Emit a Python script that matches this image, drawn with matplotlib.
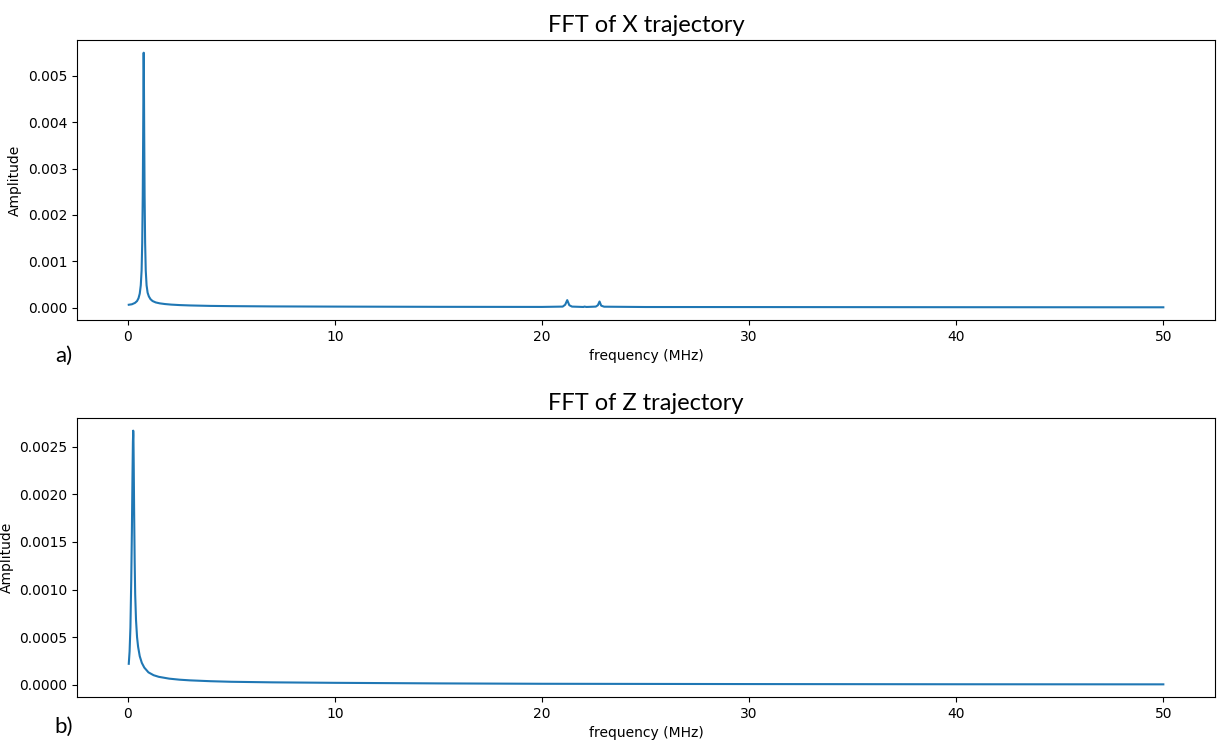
import numpy as np
import matplotlib.pyplot as plt

# values (frequency in MHz, amplitude)
freq_x = [0.05, 0.2, 0.35, 0.45, 0.52, 0.58, 0.63, 0.67, 0.7, 0.725, 0.745, 0.76,
          0.77, 0.78, 0.795, 0.815, 0.84, 0.87, 0.91, 0.96, 1.02, 1.1, 1.2, 1.35,
          1.55, 1.8, 2.1, 2.5, 3.0, 4.0, 5.0, 7.0, 10.0, 15.0, 20.0, 21.0, 21.12,
          21.22, 21.32, 21.45, 22.0, 22.05, 22.15, 22.6, 22.7, 22.78, 22.86, 23.0,
          25.0, 30.0, 40.0, 50.0]
amp_x = [0.00006, 0.00007, 0.0001, 0.00014, 0.0002, 0.0003, 0.00048, 0.0008,
         0.0014, 0.0024, 0.0037, 0.0049, 0.0055, 0.0051, 0.0038, 0.0024, 0.0014,
         0.0008, 0.00048, 0.00032, 0.00024, 0.00018, 0.00014, 0.00011, 0.00009,
         0.000075, 0.000063, 0.000053, 0.000045, 0.000035, 0.00003, 0.000024,
         0.00002, 0.000015, 0.000013, 0.00002, 0.00006, 0.00016, 0.00005, 0.00002,
         0.000012, 0.00002, 0.000012, 0.00002, 0.00005, 0.00013, 0.00004, 0.000018,
         0.000011, 0.00001, 0.000007, 0.000005]

freq_z = [0.05, 0.09, 0.13, 0.17, 0.2, 0.23, 0.25, 0.265, 0.275, 0.29, 0.31,
          0.335, 0.36, 0.4, 0.45, 0.5, 0.58, 0.68, 0.8, 1.0, 1.25, 1.5, 2.0, 2.5,
          3.0, 4.0, 5.0, 7.0, 10.0, 15.0, 20.0, 30.0, 40.0, 50.0]
amp_z = [0.00022, 0.00035, 0.0006, 0.0011, 0.0016, 0.0022, 0.00255, 0.00267,
         0.00262, 0.0023, 0.0018, 0.0013, 0.00095, 0.00068, 0.0005, 0.0004,
         0.0003, 0.00023, 0.00018, 0.00013, 0.0001, 0.000083, 0.000064, 0.000053,
         0.000046, 0.000037, 0.000031, 0.000025, 0.00002, 0.000014, 0.00001,
         0.000007, 0.000005, 0.000004]

title_font = "Lato"

fig = plt.figure(figsize=(12.17, 7.42), dpi=100)
ax1 = fig.add_axes([0.0633, 0.5687, 0.9351, 0.3774])
ax2 = fig.add_axes([0.0633, 0.0606, 0.9351, 0.3761])

ax1.plot(freq_x, amp_x, color="#1f77b4", lw=1.5)
ax1.set_title("FFT of X trajectory", fontsize=17, family=title_font)
ax1.set_xlabel("frequency (MHz)")
ax1.set_ylabel("Amplitude")

ax2.plot(freq_z, amp_z, color="#1f77b4", lw=1.5)
ax2.set_title("FFT of Z trajectory", fontsize=17, family=title_font)
ax2.set_xlabel("frequency (MHz)")
ax2.set_ylabel("Amplitude")

fig.text(0.045, 0.52, "a)", fontsize=16, family=title_font, va="center")
fig.text(0.045, 0.02, "b)", fontsize=16, family=title_font, va="center")

fig.savefig("out.png", dpi=100)
